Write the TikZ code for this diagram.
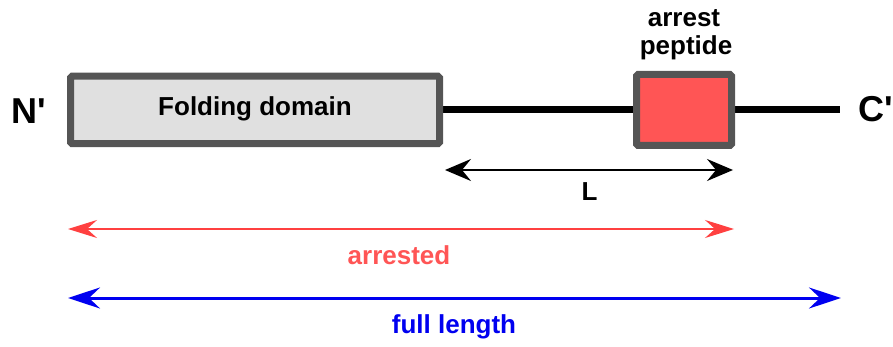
\documentclass[tikz,border=0pt]{standalone}
\usepackage{fontspec}
\setmainfont{Liberation Sans}[Ligatures=TeXOff]
\usetikzlibrary{arrows.meta}
\definecolor{boxedge}{HTML}{555555}
\definecolor{domfill}{HTML}{E0E0E0}
\definecolor{pepred}{HTML}{FF5555}
\definecolor{arrred}{HTML}{FF4040}
\definecolor{arrblue}{HTML}{0000F0}
\tikzset{
  lbl/.style={font=\bfseries\fontsize{26}{28}\selectfont, inner sep=0pt, anchor=base},
  endlbl/.style={font=\bfseries\fontsize{36}{38}\selectfont, inner sep=0pt, anchor=base west},
  seqbox/.style={draw=boxedge, line width=7pt, rounded corners=1.5pt, inner sep=0pt},
  backbone/.style={line width=7pt, black},
  lhead/.style={{Stealth[length=26pt,width=22pt,inset=9pt]}-{Stealth[length=26pt,width=22pt,inset=9pt]}},
  redhead/.style={{Stealth[length=29pt,width=18pt,inset=10pt]}-{Stealth[length=29pt,width=18pt,inset=10pt]}},
  bluehead/.style={{Stealth[length=32pt,width=21pt,inset=11pt]}-{Stealth[length=32pt,width=21pt,inset=11pt]}},
}
\begin{document}
\begin{tikzpicture}[x=1pt,y=-1pt]
  \useasboundingbox (0,0) rectangle (893,347);
  % polypeptide backbone
  \coordinate (cend) at (840,110);
  \draw[backbone] (440,110) -- (cend);
  % folding domain and arrest peptide
  \node[seqbox, fill=domfill, minimum width=369pt, minimum height=67.5pt] (fold) at (255,110) {};
  \node[lbl] (foldtxt) at (255,116) {Folding domain};
  \node[seqbox, fill=pepred, minimum width=95pt, minimum height=71pt] (pep) at (684,110) {};
  \node[lbl] (arresttxt) at (684,27) {arrest};
  \node[lbl] (peptxt) at (686,55) {peptide};
  % termini
  \node[endlbl] (nterm) at (11,124) {N'};
  \node[endlbl] (cterm) at (858,121.5) {C'};
  % distance L
  \coordinate (la) at (445,170);
  \coordinate (lb) at (733,170);
  \draw[line width=2pt, lhead] (la) -- (lb);
  \node[lbl] (ltxt) at (589.5,201) {L};
  % arrested length
  \coordinate (ra) at (68,229);
  \coordinate (rb) at (734,229);
  \draw[arrred, line width=2pt, redhead] (ra) -- (rb);
  \node[lbl, text=pepred] (rtxt) at (399,264) {arrested};
  % full length
  \coordinate (ba) at (68,298);
  \coordinate (bb) at (841,298);
  \draw[arrblue, line width=3pt, bluehead] (ba) -- (bb);
  \node[lbl, text=arrblue] (btxt) at (454,333) {full length};
\end{tikzpicture}
\end{document}
